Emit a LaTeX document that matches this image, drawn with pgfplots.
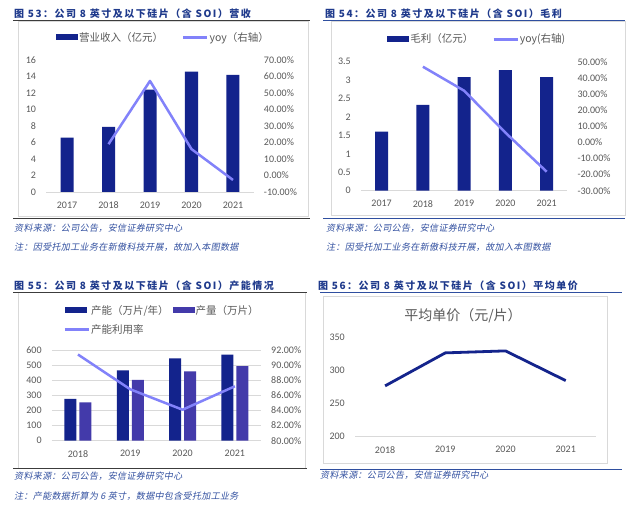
\documentclass[border=0pt]{standalone}
\usepackage{fontspec}
\usepackage{pgfplots}
\pgfplotsset{compat=1.18}
\setmainfont{Carlito}
\newfontfamily\cjk{Noto Sans CJK SC}
\newfontfamily\cjktitle[LetterSpace=15]{Noto Sans CJK SC}
\newfontfamily\cjksrc[FakeSlant=0.2,LetterSpace=4]{Noto Sans CJK SC}
\definecolor{barC}{RGB}{19,35,140}
\definecolor{prodC}{RGB}{67,58,170}
\definecolor{lineC}{RGB}{130,130,250}
\definecolor{priceC}{RGB}{20,36,140}
\definecolor{titleC}{RGB}{31,58,140}
\definecolor{srcC}{RGB}{50,80,160}
\definecolor{tickC}{RGB}{89,89,89}
\definecolor{gridC}{RGB}{217,217,217}
\definecolor{leftLineC}{RGB}{60,60,60}
\definecolor{rightLineC}{RGB}{47,79,159}
\newcommand\legfont{\cjk\fontsize{10.5}{12}\selectfont}
\newcommand\titlefont{\cjktitle\bfseries\fontsize{10}{12}\selectfont}
\newcommand\srcfont{\cjksrc\fontsize{9}{11}\selectfont}
\pgfplotsset{
  mybase/.style={scale only axis, anchor=south west, clip=false,
    tick style={draw=none}, major tick length=0pt,
    ticklabel style={font=\fontsize{10}{12}\selectfont, text=tickC},
    /pgf/number format/assume math mode=true},
  leftax/.style={mybase, axis x line=bottom, axis y line=left,
    x axis line style={-, draw=gridC, line width=0.8pt},
    y axis line style={draw=none},
    yticklabel style={anchor=east, inner sep=0pt, xshift=-10pt},
    xticklabel style={anchor=north, inner sep=0pt, yshift=-9.5pt}},
  rightax/.style={mybase, axis y line=right, axis x line=none,
    y axis line style={draw=none}, xtick=\empty,
    yticklabel={\pgfmathprintnumber[fixed,fixed zerofill,precision=2]{\tick}\%},
    yticklabel style={anchor=west, inner sep=0pt, xshift=10pt}},
  mylegend/.style={draw=none, fill=none, inner sep=0pt, font=\legfont, text=tickC,
    nodes={inner xsep=1pt},
    /tikz/every odd column/.append style={column sep=0pt},
    /tikz/every even column/.append style={column sep=18pt}},
  barleg/.style={legend image code/.code={\fill[#1] (0pt,-3pt) rectangle (22pt,3pt);}},
  lineleg/.style={legend image code/.code={\draw[line width=2.5pt] (0pt,0pt) -- (24pt,0pt);}},
}
\begin{document}
\begin{tikzpicture}
\useasboundingbox (0,0) rectangle (640pt,-510pt);
\fill[white] (0,0) rectangle (640pt,-510pt);
% ---------- frames and rules
\draw[gridC, line width=0.7pt] (18.3pt,-21pt) rectangle (308.3pt,-216.7pt);
\draw[gridC, line width=0.7pt] (331.7pt,-21pt) rectangle (625pt,-215pt);
\draw[gridC, line width=0.7pt] (18.3pt,-292.3pt) rectangle (305pt,-468pt);
\draw[gridC, line width=0.7pt] (323.3pt,-296.7pt) rectangle (607.3pt,-463.3pt);
\draw[leftLineC, line width=1pt] (13pt,-20.7pt) -- (310pt,-20.7pt);
\draw[leftLineC, line width=1pt] (13pt,-218.3pt) -- (310pt,-218.3pt);
\draw[rightLineC, line width=1pt] (323pt,-20.7pt) -- (625pt,-20.7pt);
\draw[rightLineC, line width=1pt] (323pt,-218.3pt) -- (625pt,-218.3pt);
\draw[leftLineC, line width=1pt] (13pt,-292.3pt) -- (307pt,-292.3pt);
\draw[leftLineC, line width=1pt] (13pt,-468.6pt) -- (307pt,-468.6pt);
\draw[rightLineC, line width=1pt] (320pt,-292.8pt) -- (622pt,-292.8pt);
\draw[rightLineC, line width=1pt] (320pt,-469pt) -- (622pt,-469pt);
% ---------- titles
\node[anchor=west, inner sep=0pt, text=titleC, font=\titlefont] at (14pt,-13.3pt) {图 53：公司 8 英寸及以下硅片（含 SOI）营收};
\node[anchor=west, inner sep=0pt, text=titleC, font=\titlefont] at (325pt,-13.3pt) {图 54：公司 8 英寸及以下硅片（含 SOI）毛利};
\node[anchor=west, inner sep=0pt, text=titleC, font=\titlefont] at (14pt,-285.7pt) {图 55：公司 8 英寸及以下硅片（含 SOI）产能情况};
\node[anchor=west, inner sep=0pt, text=titleC, font=\titlefont] at (318pt,-285.7pt) {图 56：公司 8 英寸及以下硅片（含 SOI）平均单价};
% ---------- sources
\node[anchor=west, inner sep=0pt, text=srcC, font=\srcfont] at (14pt,-228pt) {资料来源：公司公告，安信证券研究中心};
\node[anchor=west, inner sep=0pt, text=srcC, font=\srcfont] at (14pt,-247pt) {注：因受托加工业务在新傲科技开展，故加入本图数据};
\node[anchor=west, inner sep=0pt, text=srcC, font=\srcfont] at (326pt,-227.7pt) {资料来源：公司公告，安信证券研究中心};
\node[anchor=west, inner sep=0pt, text=srcC, font=\srcfont] at (326pt,-246.7pt) {注：因受托加工业务在新傲科技开展，故加入本图数据};
\node[anchor=west, inner sep=0pt, text=srcC, font=\srcfont] at (14pt,-475.7pt) {资料来源：公司公告，安信证券研究中心};
\node[anchor=west, inner sep=0pt, text=srcC, font=\srcfont] at (14pt,-495.7pt) {注：产能数据折算为 6 英寸，数据中包含受托加工业务};
\node[anchor=west, inner sep=0pt, text=srcC, font=\srcfont] at (320pt,-475pt) {资料来源：公司公告，安信证券研究中心};
% ---------- panel 1
\begin{axis}[leftax, at={(46.25pt,-192pt)}, width=207.5pt, height=132pt,
  xmin=-0.5, xmax=4.5, ymin=0, ymax=16, ytick={0,2,...,16},
  xtick={0,1,2,3,4}, xticklabels={2017,2018,2019,2020,2021},
  legend columns=2, legend cell align=left,
  legend style={mylegend, at={(0.5627,1.172)}, anchor=center}]
\addplot[ybar, bar width=13pt, fill=barC, draw=none, barleg=barC] coordinates {(0,6.6) (1,7.9) (2,12.4) (3,14.6) (4,14.2)};
\addlegendentry{营业收入（亿元）}
\addlegendimage{draw=lineC, lineleg}
\addlegendentry{yoy（右轴）}
\end{axis}
\begin{axis}[rightax, at={(46.25pt,-192pt)}, width=207.5pt, height=132pt,
  xmin=-0.5, xmax=4.5, ymin=-10, ymax=70, ytick={-10,0,...,70}]
\addplot[draw=lineC, line width=2.5pt, no marks, line join=round] coordinates {(1,19) (2,57.3) (3,16) (4,-2.7)};
\end{axis}
% ---------- panel 2
\begin{axis}[leftax, at={(361pt,-190.7pt)}, width=206.3pt, height=129pt,
  xmin=-0.5, xmax=4.5, ymin=0, ymax=3.5, ytick={0,0.5,...,3.5},
  xtick={0,1,2,3,4}, xticklabels={2017,2018,2019,2020,2021},
  legend columns=2, legend cell align=left,
  legend style={mylegend, at={(0.561,1.174)}, anchor=center}]
\addplot[ybar, bar width=13pt, fill=barC, draw=none, barleg=barC] coordinates {(0,1.6) (1,2.33) (2,3.08) (3,3.27) (4,3.08)};
\addlegendentry{毛利（亿元）}
\addlegendimage{draw=lineC, lineleg}
\addlegendentry{yoy(右轴)}
\end{axis}
\begin{axis}[rightax, at={(361pt,-190.7pt)}, width=206.3pt, height=129pt,
  xmin=-0.5, xmax=4.5, ymin=-30, ymax=50, ytick={-30,-20,...,50}]
\addplot[draw=lineC, line width=2.5pt, no marks, line join=round] coordinates {(1,46.9) (2,32) (3,6) (4,-18.2)};
\end{axis}
% ---------- panel 3
\begin{axis}[leftax, at={(51.8pt,-440.7pt)}, width=209.2pt, height=90.7pt,
  xmin=-0.5, xmax=3.5, ymin=0, ymax=600, ytick={0,100,...,600},
  ymajorgrids, major grid style={draw=gridC, line width=0.7pt},
  xtick={0,1,2,3}, xticklabels={2018,2019,2020,2021},
  ybar=3pt, bar width=12pt,
  legend columns=2, legend cell align=left,
  legend style={mylegend, at={(0.055,1.52)}, anchor=north west,
    /tikz/every even column/.append style={column sep=3pt}, row sep=5pt}]
\addplot[fill=barC, draw=none, barleg=barC] coordinates {(0,276) (1,465) (2,545) (3,569)};
\addlegendentry{产能（万片/年）}
\addplot[fill=prodC, draw=none, barleg=prodC] coordinates {(0,254) (1,402) (2,459) (3,494)};
\addlegendentry{产量（万片）}
\addlegendimage{draw=lineC, lineleg}
\addlegendentry{产能利用率}
\end{axis}
\begin{axis}[rightax, at={(51.8pt,-440.7pt)}, width=209.2pt, height=90.7pt,
  xmin=-0.5, xmax=3.5, ymin=80, ymax=92, ytick={80,82,...,92}]
\addplot[draw=lineC, line width=2.5pt, no marks, line join=round] coordinates {(0,91.4) (1,86.8) (2,84.1) (3,87.2)};
\end{axis}
% ---------- panel 4
\node[text=tickC, font=\cjk\fontsize{14}{16}\selectfont] at (463pt,-315.7pt) {平均单价（元/片）};
\begin{axis}[leftax, at={(355pt,-436.7pt)}, width=240.8pt, height=99pt,
  xmin=-0.5, xmax=3.5, ymin=200, ymax=350, ytick={200,250,300,350},
  xtick={0,1,2,3}, xticklabels={2018,2019,2020,2021}]
\addplot[draw=priceC, line width=2.8pt, no marks, line join=round] coordinates {(0,277) (1,327) (2,330) (3,285)};
\end{axis}
\end{tikzpicture}
\end{document}
